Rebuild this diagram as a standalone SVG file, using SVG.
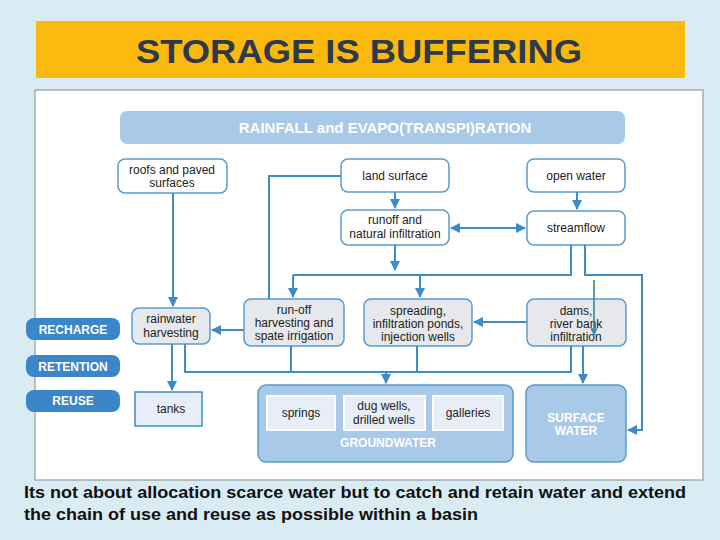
<svg xmlns="http://www.w3.org/2000/svg" width="720" height="540" viewBox="0 0 720 540">
<defs>
<marker id="ar" viewBox="0 0 10 10" refX="9" refY="5" markerWidth="5" markerHeight="5" orient="auto-start-reverse"><path d="M0,0L10,5L0,10z" fill="#3d8bc9"/></marker>
<style>
.b{fill:#fff;stroke:#5a9ad0;stroke-width:1.5}
.g{fill:#e6e8ec;stroke:#5a9ad0;stroke-width:1.5}
.t{font-family:"Liberation Sans",Arial,sans-serif;font-size:12px;fill:#222;text-anchor:middle}
.w{font-family:"Liberation Sans",Arial,sans-serif;font-weight:bold;fill:#fff;text-anchor:middle}
.c{fill:none;stroke:#3d8bc9;stroke-width:2}
.a{marker-end:url(#ar)}
.lab{fill:#3a86c8}
.in{fill:#e8eef7;stroke:#fff;stroke-width:2}
</style>
</defs>
<rect width="720" height="540" fill="#d9ecf3"/>
<g id="title"><rect x="36" y="21" width="649" height="57" fill="#fbb90e"/>
<text x="359" y="63" font-family="'Liberation Sans',Arial,sans-serif" font-size="34" font-weight="bold" fill="#2e3a4c" text-anchor="middle" textLength="446" lengthAdjust="spacingAndGlyphs">STORAGE IS BUFFERING</text></g>
<rect x="35" y="90" width="668" height="390" fill="#fff" stroke="#888"/>
<g id="rainfall"><rect x="120" y="111" width="505" height="33" rx="7" fill="#a9c9e9"/><text class="w" x="385" y="133" font-size="15">RAINFALL and EVAPO(TRANSPI)RATION</text></g>
<g id="roofs"><rect class="b" x="118" y="159" width="109" height="34" rx="7"/><text class="t" x="172" y="174">roofs and paved</text><text class="t" x="172" y="187">surfaces</text></g>
<g id="land"><rect class="b" x="341" y="159" width="108" height="33" rx="7"/><text class="t" x="395" y="180">land surface</text></g>
<g id="open"><rect class="b" x="527" y="159" width="98" height="33" rx="7"/><text class="t" x="576" y="180">open water</text></g>
<g id="runoff"><rect class="b" x="341" y="210" width="108" height="35" rx="7"/><text class="t" x="395" y="224">runoff and</text><text class="t" x="395" y="238">natural infiltration</text></g>
<g id="stream"><rect class="b" x="527" y="211" width="98" height="34" rx="7"/><text class="t" x="576" y="232">streamflow</text></g>
<g id="rainwater"><rect class="g" x="132" y="308" width="78" height="36" rx="7"/><text class="t" x="171" y="323">rainwater</text><text class="t" x="171" y="337">harvesting</text></g>
<g id="runharv"><rect class="g" x="244" y="299" width="100" height="47" rx="7"/><text class="t" x="294" y="314">run-off</text><text class="t" x="294" y="327">harvesting and</text><text class="t" x="294" y="340">spate irrigation</text></g>
<g id="spreading"><rect class="g" x="364" y="299" width="108" height="47" rx="7"/><text class="t" x="418" y="315">spreading,</text><text class="t" x="418" y="328">infiltration ponds,</text><text class="t" x="418" y="341">injection wells</text></g>
<g id="dams"><rect class="g" x="527" y="299" width="99" height="47" rx="7"/><text class="t" x="576" y="315">dams,</text><text class="t" x="576" y="328">river bank</text><text class="t" x="576" y="341">infiltration</text></g>
<g id="tanks"><rect x="135" y="392" width="67" height="34" fill="#e8eef7" stroke="#3d8bc9" stroke-width="1.5"/><text class="t" x="171" y="413">tanks</text></g>
<g id="groundwater"><rect x="258" y="385" width="255" height="77" rx="8" fill="#a9c9e9" stroke="#5a9ad0" stroke-width="1.5"/>
<rect class="in" x="267" y="396" width="68" height="34"/><text class="t" x="301" y="417">springs</text>
<rect class="in" x="344" y="396" width="81" height="34"/><text class="t" x="384" y="410">dug wells,</text><text class="t" x="384" y="424">drilled wells</text>
<rect class="in" x="433" y="396" width="70" height="34"/><text class="t" x="468" y="417">galleries</text>
<text class="w" x="388" y="447" font-size="12">GROUNDWATER</text></g>
<g id="surface"><rect x="526" y="385" width="100" height="77" rx="8" fill="#a9c9e9" stroke="#5a9ad0" stroke-width="1.5"/><text class="w" x="576" y="422" font-size="12">SURFACE</text><text class="w" x="576" y="435" font-size="12">WATER</text></g>
<g id="legend"><rect class="lab" x="26" y="318" width="94" height="22" rx="8"/><text class="w" x="73" y="334" font-size="12">RECHARGE</text>
<rect class="lab" x="26" y="355" width="94" height="22" rx="8"/><text class="w" x="73" y="371" font-size="12">RETENTION</text>
<rect class="lab" x="26" y="390" width="94" height="22" rx="8"/><text class="w" x="73" y="405" font-size="12">REUSE</text></g>
<g id="connectors">
<path class="c" d="M341,176H269V299"/>
<path class="c a" d="M173,193V306"/>
<path class="c a" d="M395,192V208"/>
<path class="c a" d="M577,192V209"/>
<path class="c a" d="M451,228H525" marker-start="url(#ar)"/>
<path class="c a" d="M395,245V270"/>
<path class="c" d="M571,245V275H293"/>
<path class="c a" d="M293,275V297"/>
<path class="c a" d="M420,275V297"/>
<path class="c a" d="M585,245V275H642V430H628"/>
<path d="M594,280V335" stroke="#2f7f8a" stroke-width="1.5" fill="none" marker-end="url(#ar)"/>
<path class="c a" d="M527,322H474"/>
<path class="c a" d="M244,330H212"/>
<path class="c a" d="M172,344V390"/>
<path class="c" d="M185,344V372H571V346M291,346V372M417,346V372"/>
<path class="c a" d="M386,372V383"/>
<path class="c a" d="M583,346V383"/>
</g>
<g font-family="'Liberation Sans',Arial,sans-serif" font-size="16.5" font-weight="bold" fill="#111">
<text x="24" y="498" textLength="662" lengthAdjust="spacingAndGlyphs">Its not about allocation scarce water but to catch and retain water and extend</text>
<text x="24" y="520" textLength="454" lengthAdjust="spacingAndGlyphs">the chain of use and reuse as possible within a basin</text></g>
</svg>
